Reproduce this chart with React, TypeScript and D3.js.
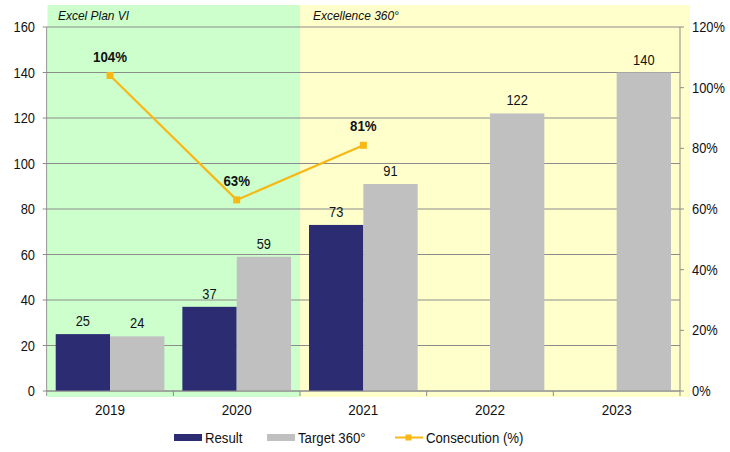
import React from "react";
import * as d3 from "d3";

const years = ["2019", "2020", "2021", "2022", "2023"];
const resultValues: (number | null)[] = [25, 37, 73, null, null];
const targetValues: number[] = [24, 59, 91, 122, 140];
const consecution: (number | null)[] = [1.04, 0.63, 0.81, null, null];
const leftTicks = [0, 20, 40, 60, 80, 100, 120, 140, 160];
const rightTicks = [0, 0.2, 0.4, 0.6, 0.8, 1.0, 1.2];
const seriesNames = ["Result", "Target 360°", "Consecution (%)"];
const sectionNames = ["Excel Plan VI", "Excellence 360°"];

const W = 730, H = 452;
const M = { left: 46.7, right: 680, top: 27, bottom: 391 };
const NAVY = "#2b2c72";
const GRAY = "#c0c0c0";
const GOLD = "#f7b815";
const FONT = "Liberation Sans, Arial, sans-serif";

function T(props: {
  x: number; y: number; size: number; sx?: number; anchor?: string;
  bold?: boolean; italic?: boolean; children: React.ReactNode;
}) {
  const sx = props.sx ?? 0.92;
  return (
    <text
      transform={`translate(${props.x},${props.y}) scale(${sx},1)`}
      fontSize={props.size}
      textAnchor={props.anchor ?? "start"}
      fontWeight={props.bold ? "bold" : "normal"}
      fontStyle={props.italic ? "italic" : "normal"}
      fill="#111"
    >
      {props.children}
    </text>
  );
}

export default function App() {
  const x = d3.scaleBand<string>().domain(years).range([M.left, M.right]).paddingInner(0).paddingOuter(0);
  const y = d3.scaleLinear().domain([0, 160]).range([M.bottom, M.top]);
  const y2 = d3.scaleLinear().domain([0, 1.2]).range([M.bottom, M.top]);
  const bw = x.bandwidth();
  const pad = 9;
  const barW = (bw - 2 * pad) / 2;
  const cx = (yr: string) => (x(yr) as number) + bw / 2;

  const linePts = years
    .map((yr, i) => ({ yr, v: consecution[i] }))
    .filter((d) => d.v != null) as { yr: string; v: number }[];
  const line = d3.line<{ yr: string; v: number }>().x((d) => cx(d.yr)).y((d) => y2(d.v));

  const splitX = x("2021") as number;

  return (
    <svg width={W} height={H} style={{ position: "absolute", left: 0, top: 0 }} fontFamily={FONT}>
      <rect x={0} y={0} width={W} height={H} fill="#fff" />
      <rect x={47.5} y={5} width={splitX - 47.5} height={392} fill="#ccffcc" />
      <rect x={splitX} y={5} width={690 - splitX} height={392} fill="#ffffcc" />
      <T x={58} y={20} size={13} italic sx={0.92}>{sectionNames[0]}</T>
      <T x={splitX + 13} y={20} size={13} italic sx={0.92}>{sectionNames[1]}</T>

      {leftTicks.map((t) => (
        <line key={"g" + t} x1={M.left} x2={M.right} y1={y(t)} y2={y(t)} stroke="#8c8c8c" strokeWidth={1} />
      ))}

      {years.map((yr, i) => {
        const x0 = (x(yr) as number) + pad;
        const r = resultValues[i];
        const t = targetValues[i];
        return (
          <g key={yr}>
            {r != null && (
              <>
                <rect x={x0} y={y(r)} width={barW} height={M.bottom - y(r)} fill={NAVY} />
                <T x={x0 + barW / 2} y={y(r) - 8} anchor="middle" size={14}>{r}</T>
              </>
            )}
            <rect x={x0 + barW} y={y(t)} width={barW} height={M.bottom - y(t)} fill={GRAY} />
            <T x={x0 + barW * 1.5} y={y(t) - 8} anchor="middle" size={14}>{t}</T>
          </g>
        );
      })}

      <path d={line(linePts) || ""} fill="none" stroke={GOLD} strokeWidth={2.2} />
      {linePts.map((d) => (
        <g key={"p" + d.yr}>
          <rect x={cx(d.yr) - 3.5} y={y2(d.v) - 3.5} width={7} height={7} fill={GOLD} />
          <T x={cx(d.yr)} y={y2(d.v) - 14} anchor="middle" size={14} bold sx={0.95}>
            {Math.round(d.v * 100) + "%"}
          </T>
        </g>
      ))}

      {/* axes */}
      <line x1={M.left} x2={M.left} y1={M.top} y2={M.bottom} stroke="#8c8c8c" />
      <line x1={M.right} x2={M.right} y1={M.top} y2={M.bottom} stroke="#8c8c8c" />
      <line x1={M.left} x2={M.right} y1={M.bottom} y2={M.bottom} stroke="#8c8c8c" />
      {leftTicks.map((t) => (
        <g key={"l" + t}>
          <line x1={M.left - 4} x2={M.left} y1={y(t)} y2={y(t)} stroke="#8c8c8c" />
          <T x={35} y={y(t) + 5} anchor="end" size={14}>{t}</T>
        </g>
      ))}
      {rightTicks.map((t) => (
        <g key={"r" + t}>
          <line x1={M.right} x2={M.right + 4} y1={y2(t)} y2={y2(t)} stroke="#8c8c8c" />
          <T x={692} y={y2(t) + 5} size={14}>{Math.round(t * 100) + "%"}</T>
        </g>
      ))}
      {years.map((yr) => (
        <T key={"x" + yr} x={cx(yr)} y={415} anchor="middle" size={15} sx={0.9}>{yr}</T>
      ))}
      {[...years.map((yr) => x(yr) as number), M.right].map((xx, i) => (
        <line key={"xt" + i} x1={xx} x2={xx} y1={M.bottom} y2={M.bottom + 5} stroke="#8c8c8c" />
      ))}

      {/* legend */}
      <rect x={174} y={434} width={28} height={7} fill={NAVY} />
      <T x={205} y={443} size={15} sx={0.88}>{seriesNames[0]}</T>
      <rect x={267} y={434} width={28} height={7} fill={GRAY} />
      <T x={298} y={443} size={15} sx={0.88}>{seriesNames[1]}</T>
      <line x1={395} x2={423} y1={437.5} y2={437.5} stroke={GOLD} strokeWidth={2} />
      <rect x={405.5} y={434.5} width={6} height={6} fill={GOLD} />
      <T x={426} y={443} size={15} sx={0.88}>{seriesNames[2]}</T>
    </svg>
  );
}
